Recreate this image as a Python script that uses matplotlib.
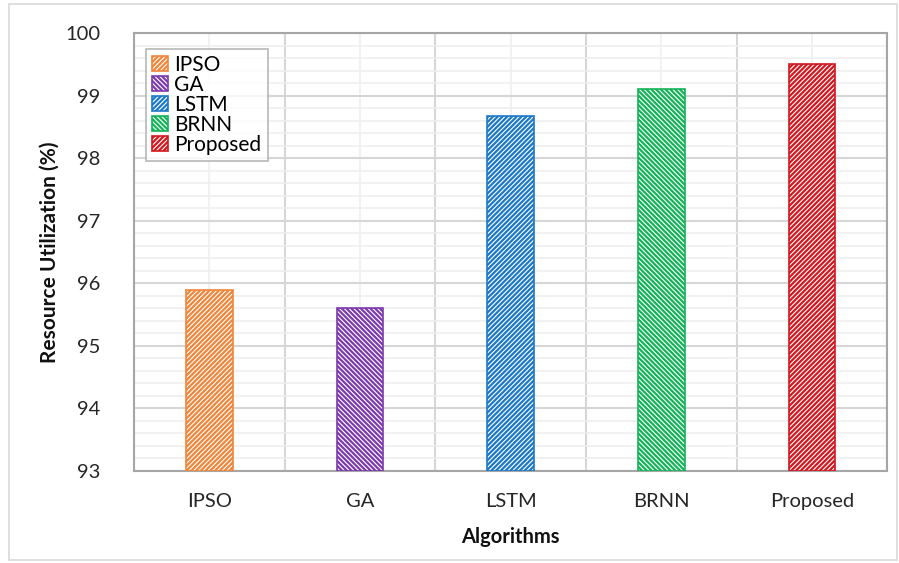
import matplotlib
matplotlib.use("Agg")
import matplotlib.pyplot as plt
from matplotlib.patches import Rectangle
import numpy as np

categories = ["IPSO", "GA", "LSTM", "BRNN", "Proposed"]
values = [95.9, 95.6, 98.67, 99.1, 99.5]
colors = ["#F0853A", "#7B3AAE", "#1C78C8", "#13B357", "#D4161E"]
hatches = ["///////", "\\\\\\\\\\\\\\", "///////", "\\\\\\\\\\\\\\", "///////"]
yticks = [93, 94, 95, 96, 97, 98, 99, 100]

plt.rcParams['font.family'] = ['Lato', 'DejaVu Sans']
plt.rcParams['hatch.linewidth'] = 1.6

fig = plt.figure(figsize=(8.99, 5.63), dpi=100)
ax = fig.add_axes([0.149, 0.1634, 0.838, 0.778])

fig.patches.append(Rectangle((9/899, 3/563), 888/899, 556/563, transform=fig.transFigure,
                             fill=False, edgecolor="#d9d9d9", linewidth=1.2, zorder=0))

x = np.arange(len(categories))
for i in range(len(categories)):
    ax.bar(x[i], values[i] - 93, bottom=93, width=0.31, facecolor="white",
           edgecolor=colors[i], hatch=hatches[i], linewidth=1.2, label=categories[i], zorder=3)

ax.set_xlim(-0.5, 4.5)
ax.set_ylim(93, 100)
ax.set_yticks(yticks)
ax.set_yticks(np.arange(93, 100.01, 0.2), minor=True)
ax.set_xticks(x)
ax.set_xticklabels(categories)
ax.set_xticks(np.arange(-0.5, 4.6, 1.0), minor=True)

ax.grid(axis='y', which='major', color="#d6d6d6", linewidth=1.5, zorder=0)
ax.grid(axis='y', which='minor', color="#efefef", linewidth=1.2, zorder=0)
ax.grid(axis='x', which='minor', color="#d6d6d6", linewidth=1.5, zorder=0)
ax.grid(axis='x', which='major', color="#efefef", linewidth=1.2, zorder=0)
ax.set_axisbelow(True)

ax.tick_params(axis='both', which='both', length=0)
ax.tick_params(axis='y', pad=24, labelsize=14.5, labelcolor="#262626")
ax.tick_params(axis='x', pad=16, labelsize=14.5, labelcolor="#262626")

for s in ax.spines.values():
    s.set_color("#a6a6a6")
    s.set_linewidth(1.5)

ax.set_xlabel("Algorithms", fontsize=14.5, fontweight='bold', labelpad=12, color="#111111")
ax.set_ylabel("Resource Utilization (%)", fontsize=15, fontweight='bold', labelpad=4, color="#111111")

leg = ax.legend(loc='upper left', bbox_to_anchor=(0.008, 0.978), fontsize=15, frameon=True,
                fancybox=False, edgecolor="#a6a6a6", handlelength=0.75, handleheight=0.75,
                handletextpad=0.3, labelspacing=0.0, borderpad=0.3, borderaxespad=0.3)
leg.get_frame().set_linewidth(1.2)

fig.savefig("out.png", dpi=100)
